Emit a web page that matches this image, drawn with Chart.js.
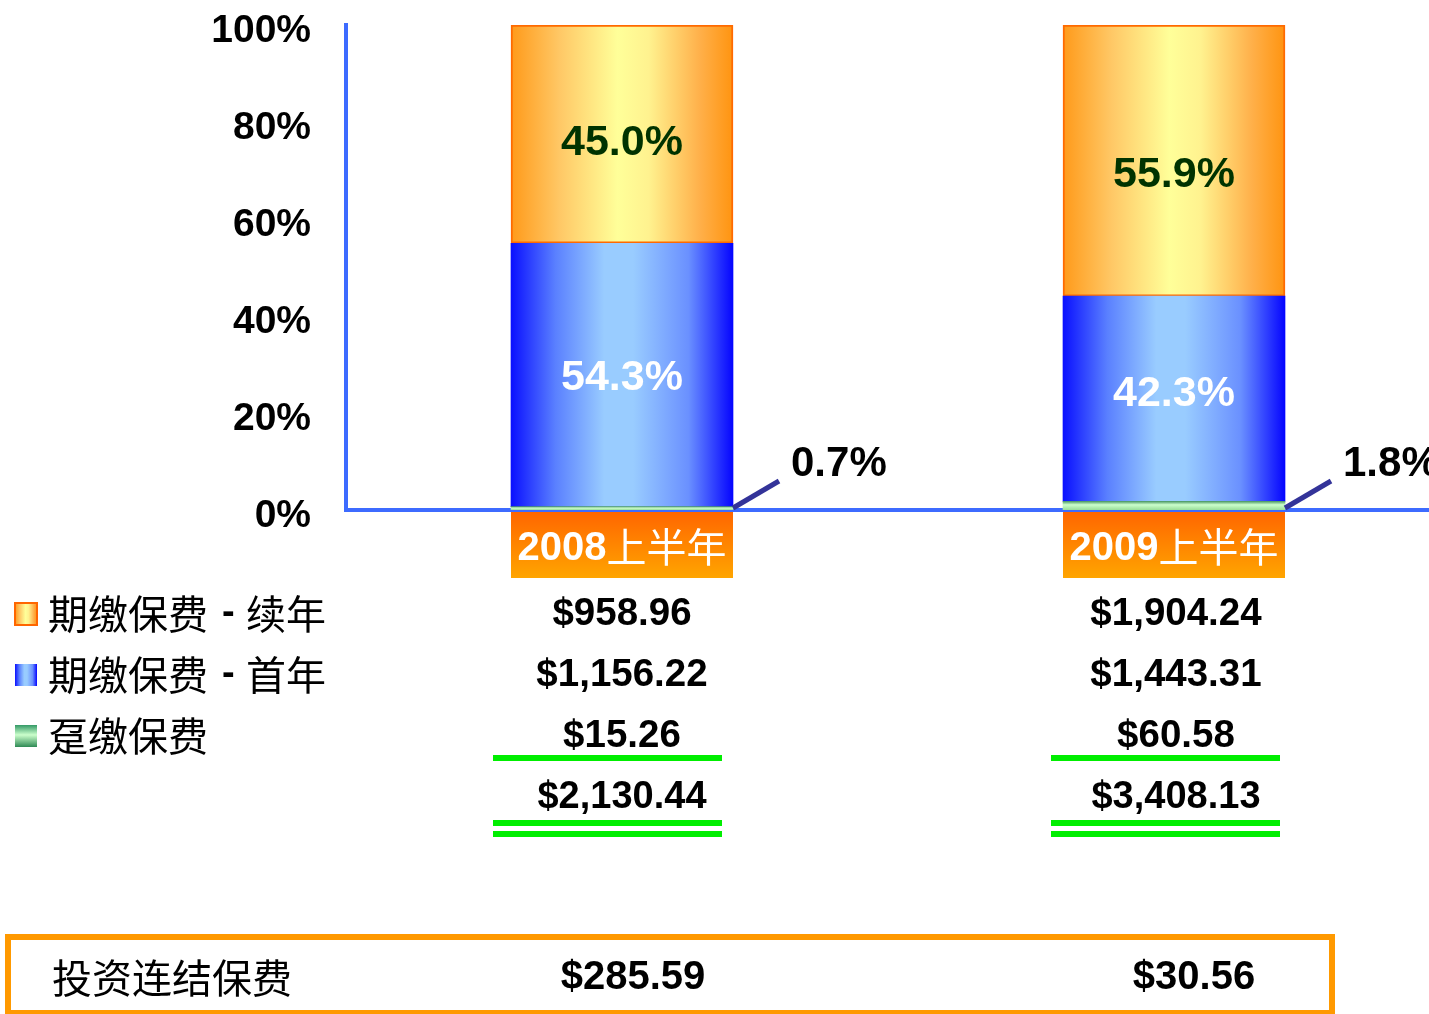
<!DOCTYPE html>
<html>
<head>
<meta charset="utf-8">
<script src="https://cdn.jsdelivr.net/npm/chart.js@4"></script>
<style>
  html, body { margin: 0; padding: 0; background: #fff; overflow: hidden; }
  #wrap { position: relative; width: 1450px; height: 1014px; }
</style>
</head>
<body>
<div id="wrap"><canvas id="barChart"></canvas></div>
<script>
// data
const categories = ["2008", "2009"];
const categorySuffix = "上半年";
const singlePremium = [0.7, 1.8];
const firstYear = [54.3, 42.3];
const renewal = [45.0, 55.9];
const seriesNames = ["期缴保费 - 续年", "期缴保费 - 首年", "趸缴保费"];
const renewalAmount = ["$958.96", "$1,904.24"];
const firstYearAmount = ["$1,156.22", "$1,443.31"];
const singleAmount = ["$15.26", "$60.58"];
const totalAmount = ["$2,130.44", "$3,408.13"];
const linkedLabel = "投资连结保费";
const linkedAmount = ["$285.59", "$30.56"];

const BAR_W = 222;
const NUM_FONT = "Liberation Sans, Arial, sans-serif";
const CJK_FONT = "'Noto Sans CJK SC', sans-serif";

const orangeStops = [[0, "#ff9a1a"], [0.22, "#ffc866"], [0.48, "#ffff99"], [0.62, "#fff28f"], [0.85, "#ffb04a"], [1, "#ff9410"]];
const blueStops = [[0, "#0a10ff"], [0.2, "#5a80ff"], [0.42, "#99ccff"], [0.55, "#99ccff"], [0.8, "#6a90ff"], [1, "#0505ff"]];

function hGrad(chart, i, stops) {
  if (!chart.chartArea || !chart.scales.x) return stops[2][1];
  const cx = chart.scales.x.getPixelForValue(i);
  const g = chart.ctx.createLinearGradient(cx - BAR_W / 2, 0, cx + BAR_W / 2, 0);
  stops.forEach((s) => g.addColorStop(s[0], s[1]));
  return g;
}

function greenGrad(c) {
  const chart = c.chart;
  if (!chart.chartArea || !chart.scales.y) return "#aaddaa";
  const y0 = chart.scales.y.getPixelForValue(c.raw);
  const y1 = chart.scales.y.getPixelForValue(0);
  const g = chart.ctx.createLinearGradient(0, y0, 0, y1);
  g.addColorStop(0, "#4d9966");
  g.addColorStop(0.4, "#ccffcc");
  g.addColorStop(1, "#99dd99");
  return g;
}

const extras = {
  id: "extras",
  afterDraw(chart) {
    const ctx = chart.ctx;
    const xs = chart.scales.x;
    const metaG = chart.getDatasetMeta(0);
    const metaB = chart.getDatasetMeta(1);
    const metaO = chart.getDatasetMeta(2);
    ctx.save();

    // in-bar labels
    ctx.textAlign = "center";
    ctx.textBaseline = "middle";
    ctx.font = "bold 43px " + NUM_FONT;
    metaB.data.forEach((el, i) => {
      ctx.fillStyle = "#ffffff";
      ctx.fillText(firstYear[i].toFixed(1) + "%", el.x, (el.y + el.base) / 2 + 3 - i * 8);
    });
    metaO.data.forEach((el, i) => {
      ctx.fillStyle = "#003300";
      ctx.fillText(renewal[i].toFixed(1) + "%", el.x, (el.y + el.base) / 2 + 9 + i * 6);
    });

    // small segment labels with leader lines
    metaG.data.forEach((el, i) => {
      const rx = el.x + el.width / 2;
      const by = el.base;
      ctx.strokeStyle = "#333399";
      ctx.lineWidth = 5;
      ctx.beginPath();
      ctx.moveTo(rx, by - 2);
      ctx.lineTo(rx + 46, by - 29);
      ctx.stroke();
      ctx.fillStyle = "#000";
      ctx.textAlign = "left";
      ctx.font = "bold 42px " + NUM_FONT;
      ctx.fillText(singlePremium[i].toFixed(1) + "%", rx + 58, by - 46);
    });

    // category boxes
    categories.forEach((cat, i) => {
      const cx = xs.getPixelForValue(i);
      const top = chart.chartArea.bottom + 2;
      const g = ctx.createLinearGradient(0, top, 0, top + 66);
      g.addColorStop(0, "#ff6600");
      g.addColorStop(1, "#ffa500");
      ctx.fillStyle = g;
      ctx.fillRect(cx - BAR_W / 2, top, BAR_W, 66);
      ctx.fillStyle = "#fff";
      ctx.textAlign = "left";
      ctx.font = "bold 40px " + NUM_FONT;
      const w1 = ctx.measureText(cat).width;
      ctx.font = "40px " + CJK_FONT;
      const w2 = ctx.measureText(categorySuffix).width;
      let x = cx - (w1 + w2) / 2;
      ctx.font = "bold 40px " + NUM_FONT;
      ctx.fillText(cat, x, top + 37);
      ctx.font = "40px " + CJK_FONT;
      ctx.fillText(categorySuffix, x + w1, top + 35);
    });

    // legend rows
    const rowY = [612, 673, 734];
    const icons = [
      (x, y) => {
        const g = ctx.createLinearGradient(x, 0, x + 22, 0);
        orangeStops.forEach((s) => g.addColorStop(s[0], s[1]));
        ctx.fillStyle = g;
        ctx.fillRect(x, y, 22, 22);
        ctx.strokeStyle = "#ff6600";
        ctx.lineWidth = 2;
        ctx.strokeRect(x, y, 22, 22);
      },
      (x, y) => {
        const g = ctx.createLinearGradient(x, 0, x + 22, 0);
        blueStops.forEach((s) => g.addColorStop(s[0], s[1]));
        ctx.fillStyle = g;
        ctx.fillRect(x, y, 22, 22);
      },
      (x, y) => {
        const g = ctx.createLinearGradient(0, y, 0, y + 22);
        g.addColorStop(0, "#339966");
        g.addColorStop(0.45, "#ccffcc");
        g.addColorStop(1, "#2f8a55");
        ctx.fillStyle = g;
        ctx.fillRect(x, y, 22, 22);
      },
    ];
    const amounts = [renewalAmount, firstYearAmount, singleAmount];
    seriesNames.forEach((name, r) => {
      icons[r](15, rowY[r] - 9);
      ctx.fillStyle = "#000";
      ctx.textAlign = "left";
      ctx.font = "40px " + CJK_FONT;
      // spread the " - " separator a little, as in the source slide
      const parts = name.split(" - ");
      ctx.fillText(parts[0], 48, rowY[r] + 2);
      if (parts[1]) {
        const w0 = ctx.measureText(parts[0]).width;
        ctx.font = "bold 38px " + NUM_FONT;
        ctx.fillText("-", 48 + w0 + 14, rowY[r] + 2);
        ctx.font = "40px " + CJK_FONT;
        ctx.fillText(parts[1], 48 + w0 + 38, rowY[r] + 2);
      }
      ctx.textAlign = "center";
      ctx.font = "bold 38.5px " + NUM_FONT;
      amounts[r].forEach((v, i) => ctx.fillText(v, xs.getPixelForValue(i) + i * 2, rowY[r] + 2));
    });
    totalAmount.forEach((v, i) => {
      ctx.fillStyle = "#000";
      ctx.textAlign = "center";
      ctx.font = "bold 38px " + NUM_FONT;
      ctx.fillText(v, xs.getPixelForValue(i) + i * 2, 798);
    });

    // underline rules
    ctx.fillStyle = "#00ee00";
    categories.forEach((cat, i) => {
      const x0 = xs.getPixelForValue(i) - 129 + i * 6;
      ctx.fillRect(x0, 755, 229, 6);
      ctx.fillRect(x0, 820, 229, 6);
      ctx.fillRect(x0, 831, 229, 6);
    });

    // linked premium box
    ctx.strokeStyle = "#ff9900";
    ctx.lineWidth = 6;
    ctx.strokeRect(8, 937, 1324, 76);
    ctx.fillStyle = "#000";
    ctx.textAlign = "left";
    ctx.font = "40px " + CJK_FONT;
    ctx.fillText(linkedLabel, 52, 978);
    ctx.textAlign = "center";
    ctx.font = "bold 40px " + NUM_FONT;
    linkedAmount.forEach((v, i) => ctx.fillText(v, xs.getPixelForValue(i) + 11 + i * 9, 978));

    ctx.restore();
  },
};

new Chart(document.getElementById("barChart"), {
  type: "bar",
  data: {
    labels: categories,
    datasets: [
      { label: seriesNames[2], data: singlePremium, backgroundColor: greenGrad, borderWidth: 0 },
      { label: seriesNames[1], data: firstYear, backgroundColor: (c) => hGrad(c.chart, c.dataIndex, blueStops), borderWidth: 0 },
      { label: seriesNames[0], data: renewal, backgroundColor: (c) => hGrad(c.chart, c.dataIndex, orangeStops), borderColor: "#ff6a00", borderWidth: 2, borderSkipped: false },
    ],
  },
  options: {
    responsive: true,
    maintainAspectRatio: false,
    animation: false,
    layout: { padding: { top: 25, right: 0, left: 0, bottom: 0 } },
    datasets: { bar: { barThickness: BAR_W } },
    plugins: { legend: { display: false }, tooltip: { enabled: false } },
    scales: {
      x: {
        stacked: true,
        grid: { display: false, drawTicks: false },
        border: { display: true, color: "#3d6bff", width: 4 },
        ticks: { display: false },
        afterFit: (axis) => { axis.height = 504; },
      },
      y: {
        stacked: true,
        min: 0,
        max: 100,
        grid: { display: false, drawTicks: false },
        border: { display: true, color: "#3d6bff", width: 4 },
        ticks: {
          stepSize: 20,
          padding: 35,
          labelOffset: 6,
          color: "#000",
          font: { family: NUM_FONT, size: 39, weight: "bold" },
          callback: (v) => v + "%",
        },
        afterFit: (axis) => {
          axis.width = 346;
          axis.paddingTop = 0;
          axis.paddingBottom = 0;
        },
      },
    },
  },
  plugins: [extras],
});
</script>
</body>
</html>
